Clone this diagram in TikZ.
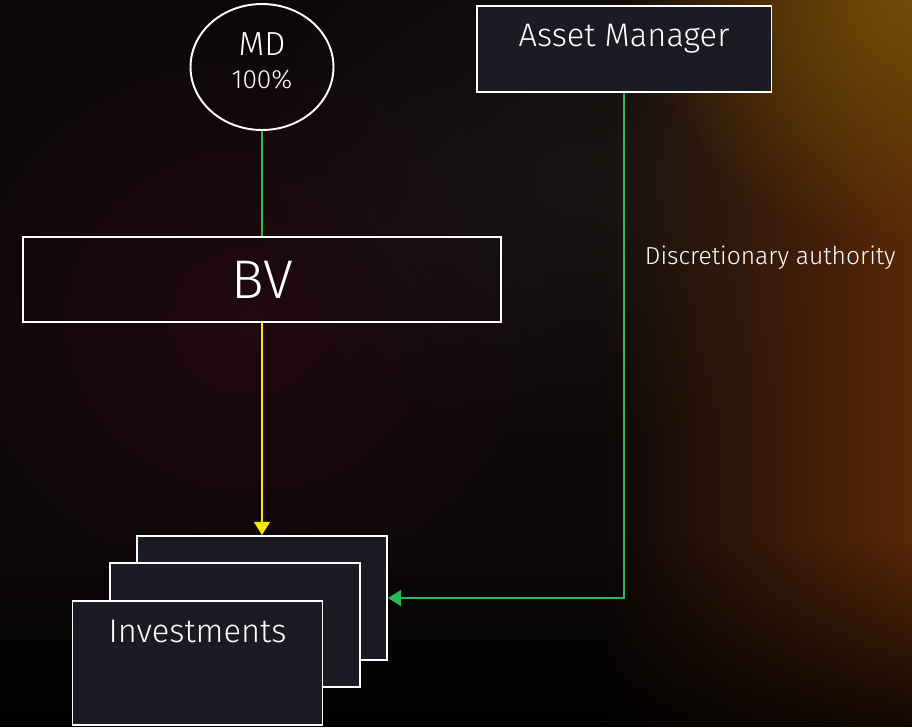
\documentclass[tikz,border=0pt]{standalone}
\usepackage{fontspec}
\setmainfont{Fira Sans Light}
\usetikzlibrary{shapes.geometric, arrows.meta, positioning, fadings}

\definecolor{bgdark}{HTML}{0C0708}
\definecolor{bgmaroon}{HTML}{2A0A14}
\definecolor{bggrey}{HTML}{221E1C}
\definecolor{bgrust}{HTML}{5A2808}
\definecolor{bggold}{HTML}{6E4C06}
\definecolor{boxfill}{HTML}{1B1B23}
\definecolor{eygreen}{HTML}{2DB757}
\definecolor{eyyellow}{HTML}{FFE600}

\tikzfading[name=fade in right, left color=transparent!100, right color=transparent!0]
\tikzfading[name=fade in down, top color=transparent!100, bottom color=transparent!0]
\tikzfading[name=glow, inner color=transparent!0, outer color=transparent!100]

\begin{document}
\begin{tikzpicture}[
    x=0.02cm, y=-0.02cm,
    owner/.style={ellipse, draw=white, line width=1.1pt, minimum width=2.86cm, minimum height=2.52cm, inner sep=0pt},
    holding/.style={rectangle, draw=white, line width=1.1pt, minimum width=9.56cm, minimum height=1.7cm, inner sep=0pt, text=white, font=\fontsize{31}{34}\selectfont},
    manager/.style={rectangle, draw=white, line width=1.1pt, fill=boxfill, minimum width=5.9cm, minimum height=1.72cm, inner sep=0pt},
    invest/.style={rectangle, draw=white, line width=1.1pt, fill=boxfill, minimum width=5cm, minimum height=2.48cm, inner sep=0pt},
    boxtext/.style={text=white, inner sep=0pt, font=\fontsize{18.6}{21}\selectfont},
    linktext/.style={text=white, inner sep=0pt, font=\fontsize{14}{16}\selectfont},
    link/.style={draw=eygreen, line width=1.1pt},
    arrow/.style={draw=eygreen, line width=1.1pt, -{Triangle[length=7.5pt, width=9pt]}},
    flow/.style={draw=eyyellow, line width=1.1pt, -{Triangle[length=7.5pt, width=9pt]}}
]
    % background
    \useasboundingbox (0,0) rectangle (912,727);
    \begin{scope}
        \clip (0,0) rectangle (912,727);
        \fill[bgdark] (0,0) rectangle (912,727);
        \fill[bgmaroon, path fading=glow, opacity=0.7] (250,320) ellipse [x radius=6.5cm, y radius=6cm];
        \fill[bggrey, path fading=glow, opacity=0.6] (580,180) ellipse [x radius=7cm, y radius=5.5cm];
        \fill[bgrust, path fading=fade in right] (600,0) rectangle (912,727);
        \fill[bggold, path fading=glow] (912,0) ellipse [x radius=5.5cm, y radius=5cm];
        \fill[black, path fading=fade in down, opacity=0.8] (0,540) rectangle (912,727);
    \end{scope}

    % nodes
    \node (md) [owner, label={[boxtext, align=center, yshift=0.12cm, font=\fontsize{19}{18.5}\selectfont]center:{MD\\{\fontsize{15}{17}\selectfont 100\%}}}] at (262,67) {};
    \node (am) [manager, label={[boxtext, anchor=base, yshift=-0.82cm]north:Asset Manager}] at (624,49) {};
    \node (bv) [holding] at (262,279.5) {BV};
    \node (inv3) [invest] at (262,598) {};
    \node (inv2) [invest] at (235,625) {};
    \node (inv1) [invest, label={[boxtext, anchor=base, yshift=-0.84cm]north:Investments}] at (197.5,663) {};

    % connectors
    \draw [link] (md) -- (bv);
    \draw [flow] (bv) -- (inv3);
    \draw [arrow] (am) |- node[linktext, pos=0.163, right=0.4cm] {Discretionary authority} (inv3);
\end{tikzpicture}
\end{document}
